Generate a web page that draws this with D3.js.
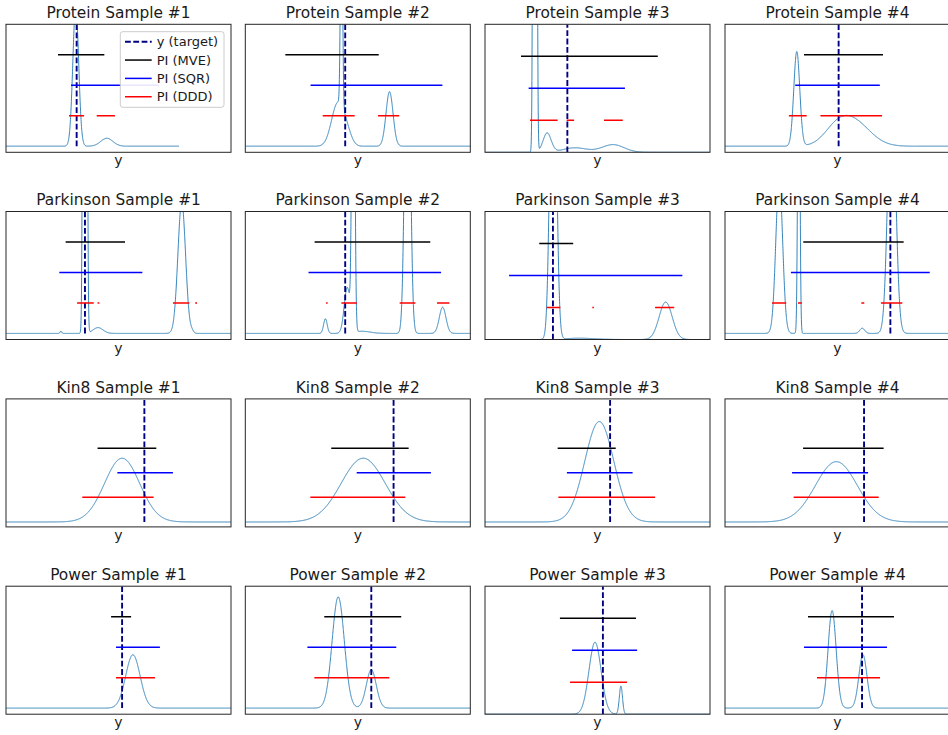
<!DOCTYPE html>
<html>
<head>
<meta charset="utf-8">
<script src="https://cdn.jsdelivr.net/npm/d3@7"></script>
<style>
  body { margin: 0; background: #fff; }
  text { font-family: "DejaVu Sans", sans-serif; fill: #1a1a1a; }
</style>
</head>
<body>
<svg id="chart" width="948" height="735"></svg>
<script>
// panel titles, row by row
const titles = [
  "Protein Sample #1", "Protein Sample #2", "Protein Sample #3", "Protein Sample #4",
  "Parkinson Sample #1", "Parkinson Sample #2", "Parkinson Sample #3", "Parkinson Sample #4",
  "Kin8 Sample #1", "Kin8 Sample #2", "Kin8 Sample #3", "Kin8 Sample #4",
  "Power Sample #1", "Power Sample #2", "Power Sample #3", "Power Sample #4"
]

// y (target) for each sample, x units 0..100
const targets = [31.4, 44.4, 36.6, 50.5, 35.1, 44.4, 30.2, 73.5, 61.5, 65.9, 55.6, 61.8, 51.6, 56.0, 52.4, 60.9]

const mveIntervals = [
  [23.1, 43.7], [17.8, 59.3], [16.0, 76.8], [35.1, 70.2],
  [26.5, 52.9], [30.8, 82.2], [24.1, 39.2], [34.8, 79.4],
  [40.7, 66.8], [38.2, 72.6], [32.3, 58.1], [34.7, 70.5],
  [46.7, 55.6], [35.1, 69.3], [33.3, 67.1], [36.9, 75.1]
]

const sqrIntervals = [
  [28.9, 68.0], [29.0, 87.6], [19.4, 62.2], [31.2, 68.8],
  [23.7, 60.6], [28.1, 87.0], [10.7, 87.7], [29.3, 91.0],
  [49.5, 74.2], [49.5, 82.5], [36.4, 65.6], [29.8, 63.6],
  [48.9, 68.4], [27.6, 67.1], [38.7, 67.6], [35.1, 72.0]
]

// DDD prediction intervals may be a union of several pieces
const dddIntervals = [
  [[28.0, 34.7], [40.3, 48.4]],
  [[34.4, 48.6], [59.0, 68.4]],
  [[20.0, 32.3], [36.3, 39.6], [52.9, 61.2]],
  [[28.4, 36.3], [42.4, 69.8]],
  [[31.6, 39.0], [40.7, 41.5], [74.2, 81.5], [84.1, 84.9]],
  [[35.9, 36.6], [42.7, 49.6], [68.6, 75.6], [85.2, 90.7]],
  [[27.4, 33.5], [47.7, 48.4], [75.6, 84.1]],
  [[20.9, 27.2], [32.4, 34.2], [60.6, 61.9], [69.3, 78.8]],
  [[33.9, 65.6]],
  [[28.9, 71.1]],
  [[32.6, 75.6]],
  [[30.5, 68.3]],
  [[48.9, 66.2]],
  [[30.7, 64.0]],
  [[37.8, 63.1]],
  [[40.9, 68.9]]
]

// predicted density as mixture components: [mean, std, peak height]
const densityComponents = [
  [[31.0, 1.29, 4.6], [44.8, 2.7, 0.26]],
  [[40.9, 2.67, 1.35], [42.76, 0.44, 8], [44.9, 2.2, 0.45], [64.1, 1.56, 1.79]],
  [[22.2, 0.49, 100], [27.6, 1.8, 0.6], [40.0, 5.3, 0.14], [56.9, 4.9, 0.24]],
  [[31.9, 1.33, 3.1], [49.0, 5.3, 0.3], [56.4, 7.6, 0.86]],
  [[24.4, 0.36, 0.07], [35.1, 0.53, 100], [40.9, 2.2, 0.19], [78.1, 1.7, 4.3], [82.7, 0.67, 0.06]],
  [[35.6, 0.8, 0.48], [45.3, 1.33, 1.5], [48.0, 0.58, 15], [52.0, 3.6, 0.07], [72.1, 1.15, 12.2], [87.7, 1.47, 0.86]],
  [[30.3, 1.33, 11.6], [42.2, 6.7, 0.04], [80.3, 2.9, 1.17]],
  [[24.1, 1.5, 5.1], [32.8, 0.45, 12], [61.0, 1.1, 0.17], [74.1, 1.7, 8.4]],
  [[51.6, 7.8, 2.59]],
  [[52.4, 9.8, 2.59]],
  [[50.8, 6.45, 4.08]],
  [[49.5, 9.3, 2.45]],
  [[56.4, 3.2, 1.75]],
  [[41.3, 2.7, 3.65], [56.0, 2.2, 1.26]],
  [[48.9, 2.7, 2.25], [60.4, 0.7, 0.88]],
  [[47.6, 1.8, 3.2], [61.3, 1.8, 1.75]]
]

// x-range the density was evaluated on
const curveExtents = [
  [0, 76.9], [0, 100], [0, 100], [0, 100],
  [0, 100], [0, 100], [0, 100], [0, 100],
  [0, 100], [0, 100], [0, 100], [0, 100],
  [0, 100], [0, 100], [0, 100], [0, 100]
]

const yLimits = [
  [-0.2, 4], [-0.2, 4], [0, 4], [-0.2, 4],
  [-0.2, 4], [-0.2, 4], [0, 4], [-0.2, 4],
  [-0.2, 5], [-0.2, 5], [-0.2, 5], [-0.2, 5],
  [-0.2, 4], [-0.2, 4], [0, 4], [-0.2, 4]
]

// heights of the interval lines: MVE, SQR, DDD
const piLevels = [3, 2, 1]
const legendLabels = ["y (target)", "PI (MVE)", "PI (SQR)", "PI (DDD)"]

//-------------------------------------------------------//
const panelW = 225, panelH = 128;
const colX = [6, 245.3, 485, 725];
const rowY = [24.3, 211.5, 398.9, 586.2];
const targetColor = "#000080", curveColor = "#1f77b4";
const piColors = ["#000000", "#0000ff", "#ff0000"];
const dash = "5.8,2.5";

var svg = d3.select("#chart");
var defs = svg.append("defs");

titles.forEach(function(title, i) {
  let px = colX[i % 4], py = rowY[Math.floor(i / 4)];
  let x = d3.scaleLinear().domain([0, 100]).range([0, panelW]);
  let y = d3.scaleLinear().domain(yLimits[i]).range([panelH, 0]);

  defs.append("clipPath").attr("id", "clip" + i)
    .append("rect").attr("width", panelW).attr("height", panelH);

  let g = svg.append("g").attr("transform", `translate(${px},${py})`);
  let plot = g.append("g").attr("clip-path", `url(#clip${i})`);

  // density curve
  let ext = curveExtents[i];
  let xs = d3.range(ext[0], ext[1] + 0.0001, 0.05);
  let pts = xs.map(v => [v, d3.sum(densityComponents[i], c => c[2] * Math.exp(-((v - c[0]) ** 2) / (2 * c[1] * c[1])))]);
  plot.append("path")
    .datum(pts)
    .attr("d", d3.line().x(d => x(d[0])).y(d => Math.max(-50, y(d[1]))))
    .attr("fill", "none")
    .attr("stroke", curveColor)
    .attr("stroke-width", 0.9);

  // target
  plot.append("line")
    .attr("x1", x(targets[i])).attr("x2", x(targets[i]))
    .attr("y1", y(0)).attr("y2", y(yLimits[i][1]))
    .attr("stroke", targetColor)
    .attr("stroke-width", 1.9)
    .attr("stroke-dasharray", dash);

  // prediction intervals
  let rows = [[mveIntervals[i]], [sqrIntervals[i]], dddIntervals[i]];
  rows.forEach(function(segs, k) {
    plot.selectAll(".pi" + k)
      .data(segs)
      .enter()
      .append("line")
      .attr("x1", d => x(d[0])).attr("x2", d => x(d[1]))
      .attr("y1", y(piLevels[k])).attr("y2", y(piLevels[k]))
      .attr("stroke", piColors[k])
      .attr("stroke-width", 1.5);
  });

  // frame
  g.append("rect")
    .attr("width", panelW).attr("height", panelH)
    .attr("fill", "none")
    .attr("stroke", "#262626")
    .attr("stroke-width", 1);

  g.append("text")
    .attr("x", panelW / 2).attr("y", -6.3)
    .attr("text-anchor", "middle")
    .style("font-size", "15.4px")
    .text(title);

  g.append("text")
    .attr("x", panelW / 2).attr("y", panelH + 13.2)
    .attr("text-anchor", "middle")
    .style("font-size", "14px")
    .text("y");

  if (i == 0) {
    let lg = g.append("g").attr("transform", "translate(114.3,7.4)");
    lg.append("rect")
      .attr("width", 103.7).attr("height", 75.6)
      .attr("rx", 2.5)
      .attr("fill", "#fff").attr("fill-opacity", 0.9)
      .attr("stroke", "#cccccc").attr("stroke-width", 1);
    let items = lg.selectAll(".item")
      .data(legendLabels)
      .enter()
      .append("g")
      .attr("transform", (d, j) => `translate(0,${10 + j * 18.35})`);
    items.append("line")
      .attr("x1", 4.7).attr("x2", 31.4)
      .attr("stroke", (d, j) => j == 0 ? targetColor : piColors[j - 1])
      .attr("stroke-width", (d, j) => j == 0 ? 1.9 : 1.5)
      .attr("stroke-dasharray", (d, j) => j == 0 ? dash : null);
    items.append("text")
      .attr("x", 36.4).attr("y", 4.6)
      .style("font-size", "13px")
      .text(d => d);
  }
});
</script>
</body>
</html>
